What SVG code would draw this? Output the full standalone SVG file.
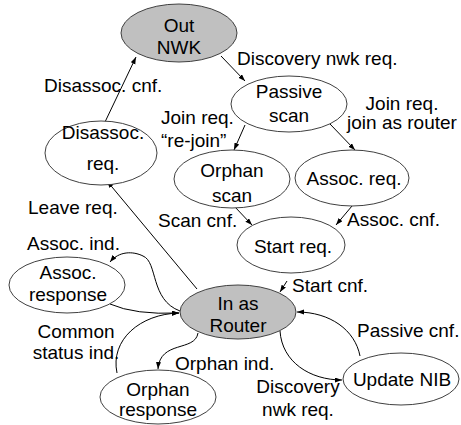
<svg xmlns="http://www.w3.org/2000/svg" width="461" height="425" viewBox="0 0 461 425">
<style>
text{font-family:"Liberation Sans",Arial,sans-serif;font-size:19px;fill:#000}
.n{text-anchor:middle}
.w{fill:#fff;stroke:#404040;stroke-width:1}
.g{fill:#c0c0c0;stroke:#404040;stroke-width:1}
.e{fill:none;stroke:#000;stroke-width:1;marker-end:url(#a)}
</style>
<defs>
<marker id="a" markerUnits="userSpaceOnUse" markerWidth="8" markerHeight="6" refX="7" refY="2.5" orient="auto">
<path d="M0,0 L7,2.5 L0,5 z" fill="#000"/>
</marker>
</defs>
<rect width="461" height="425" fill="#fff"/>
<g id="connectors">
<path class="e" d="M221,56 L245,81"/>
<path class="e" d="M105,122 L136,57"/>
<path class="e" d="M245,125 L234,150"/>
<path class="e" d="M330,124 L355,150"/>
<path class="e" d="M235,207 L252,225"/>
<path class="e" d="M352,206 L336,225"/>
<path class="e" d="M287,281 L280,292"/>
<path class="e" d="M197,289 L107,181"/>
<path class="e" d="M180,311 C150,300 158,262 143,256 C133,251 119,251 110,262"/>
<path class="e" d="M110,304 Q135,315 179,313"/>
<path class="e" d="M117,373 C110,340 140,314 179,313"/>
<path class="e" d="M198,333 C195,352 160,340 158,369"/>
<path class="e" d="M360,356 C355,330 330,312 297,312"/>
<path class="e" d="M280,331 C282,362 310,380 342,380"/>
</g>
<g id="labels">
<text x="237" y="65">Discovery nwk req.</text>
<text x="44" y="92">Disassoc. cnf.</text>
<text x="161" y="124">Join req.</text>
<text x="161" y="147">“re-join”</text>
<text class="n" x="402" y="110">Join req.</text>
<text class="n" x="402" y="129">join as router</text>
<text x="28" y="214">Leave req.</text>
<text x="158" y="227">Scan cnf.</text>
<text x="347" y="226">Assoc. cnf.</text>
<text x="292" y="292">Start cnf.</text>
<text x="27" y="250">Assoc. ind.</text>
<text class="n" x="76" y="338">Common</text>
<text class="n" x="76" y="359">status ind.</text>
<text x="175" y="370">Orphan ind.</text>
<text class="n" x="298" y="393">Discovery</text>
<text class="n" x="298" y="416">nwk req.</text>
<text x="357" y="337">Passive cnf.</text>
</g>
<g id="out-nwk">
<ellipse class="g" cx="179" cy="33" rx="58" ry="29"/>
<text class="n" x="179" y="32">Out</text>
<text class="n" x="179" y="54">NWK</text>
</g>
<g id="passive-scan">
<ellipse class="w" cx="289" cy="104" rx="58" ry="28"/>
<text class="n" x="289" y="98">Passive</text>
<text class="n" x="289" y="122">scan</text>
</g>
<g id="orphan-scan">
<ellipse class="w" cx="232" cy="179" rx="58" ry="29"/>
<text class="n" x="232" y="177">Orphan</text>
<text class="n" x="232" y="202">scan</text>
</g>
<g id="assoc-req">
<ellipse class="w" cx="352" cy="178" rx="57" ry="28"/>
<text class="n" x="354" y="185">Assoc. req.</text>
</g>
<g id="start-req">
<ellipse class="w" cx="291" cy="245" rx="54" ry="28"/>
<text class="n" x="293" y="253">Start req.</text>
</g>
<g id="disassoc-req">
<ellipse class="w" cx="101" cy="153" rx="56" ry="32"/>
<text class="n" x="103" y="139">Disassoc.</text>
<text class="n" x="103" y="170">req.</text>
</g>
<g id="in-as-router">
<ellipse class="g" cx="238" cy="312" rx="58" ry="27"/>
<text class="n" x="238" y="310">In as</text>
<text class="n" x="238" y="332">Router</text>
</g>
<g id="assoc-response">
<ellipse class="w" cx="67" cy="285" rx="58" ry="28"/>
<text class="n" x="68" y="279">Assoc.</text>
<text class="n" x="68" y="301">response</text>
</g>
<g id="orphan-response">
<ellipse class="w" cx="158" cy="397" rx="58" ry="27"/>
<text class="n" x="158" y="396">Orphan</text>
<text class="n" x="158" y="416">response</text>
</g>
<g id="update-nib">
<ellipse class="w" cx="401" cy="379" rx="58" ry="26"/>
<text class="n" x="402" y="386">Update NIB</text>
</g>
</svg>
